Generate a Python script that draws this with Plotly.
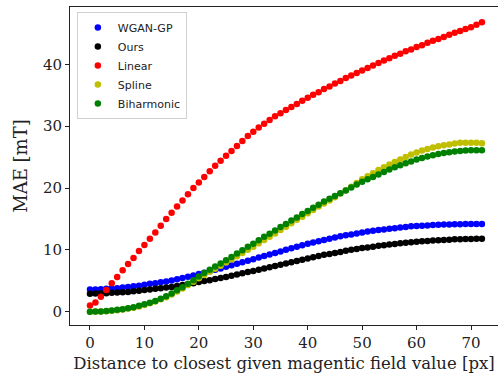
import plotly.graph_objects as go

# x positions: distance to closest given magnetic field value [px]
distance = list(range(73))

wgan_gp = [3.6, 3.6, 3.65, 3.7, 3.75, 3.8, 3.9, 4.0, 4.1, 4.2,
           4.35, 4.5, 4.6, 4.75, 4.9, 5.05, 5.25, 5.45, 5.65, 5.85,
           6.1, 6.3, 6.55, 6.8, 7.0, 7.25, 7.5, 7.75, 8.0, 8.25,
           8.5, 8.75, 9.0, 9.25, 9.5, 9.75, 10.0, 10.25, 10.5, 10.75,
           11.0, 11.2, 11.4, 11.6, 11.8, 12.0, 12.2, 12.35, 12.5, 12.65,
           12.8, 12.95, 13.1, 13.2, 13.3, 13.4, 13.5, 13.6, 13.7, 13.8,
           13.85, 13.9, 13.95, 14.0, 14.05, 14.1, 14.1, 14.15, 14.15, 14.2,
           14.2, 14.2, 14.2]

ours = [2.9, 2.95, 3.0, 3.0, 3.05, 3.1, 3.15, 3.2, 3.3, 3.4,
        3.5, 3.6, 3.7, 3.8, 3.9, 4.0, 4.15, 4.3, 4.45, 4.6,
        4.8, 4.95, 5.1, 5.3, 5.45, 5.6, 5.8, 6.0, 6.2, 6.4,
        6.6, 6.8, 7.0, 7.2, 7.4, 7.6, 7.8, 8.0, 8.2, 8.4,
        8.6, 8.8, 9.0, 9.2, 9.35, 9.5, 9.65, 9.85, 10.0, 10.15,
        10.3, 10.4, 10.5, 10.65, 10.75, 10.85, 10.95, 11.05, 11.15, 11.25,
        11.3, 11.4, 11.45, 11.5, 11.55, 11.6, 11.65, 11.7, 11.7, 11.75,
        11.75, 11.8, 11.8]

linear = [1.0, 1.5, 2.4, 3.5, 4.6, 5.6, 6.7, 7.7, 8.7, 9.8,
          10.8, 11.8, 12.8, 13.9, 15.0, 16.0, 17.0, 18.0, 19.0, 20.0,
          20.9, 21.8, 22.7, 23.6, 24.4, 25.2, 26.0, 26.8, 27.6, 28.4,
          29.1, 29.8, 30.4, 31.0, 31.6, 32.1, 32.6, 33.1, 33.6, 34.1,
          34.6, 35.1, 35.5, 36.0, 36.4, 36.9, 37.3, 37.8, 38.2, 38.6,
          39.0, 39.4, 39.8, 40.2, 40.6, 41.0, 41.4, 41.7, 42.1, 42.4,
          42.8, 43.1, 43.5, 43.8, 44.1, 44.4, 44.8, 45.1, 45.4, 45.7,
          46.0, 46.4, 46.8]

spline = [0.0, 0.0, 0.03, 0.08, 0.15, 0.25, 0.35, 0.5, 0.65, 0.85,
          1.1, 1.35, 1.65, 2.0, 2.35, 2.8, 3.25, 3.75, 4.3, 4.85,
          5.4, 5.95, 6.45, 6.95, 7.45, 7.95, 8.45, 8.95, 9.5, 10.0,
          10.5, 11.05, 11.6, 12.1, 12.65, 13.2, 13.75, 14.3, 14.85, 15.35,
          15.9, 16.45, 17.0, 17.5, 18.0, 18.5, 19.1, 19.65, 20.2, 20.8,
          21.4, 21.9, 22.4, 22.9, 23.35, 23.8, 24.2, 24.6, 25.0, 25.4,
          25.75, 26.05, 26.3, 26.55, 26.75, 26.9, 27.05, 27.2, 27.3, 27.3,
          27.3, 27.3, 27.25]

biharmonic = [0.0, 0.02, 0.05, 0.1, 0.2, 0.3, 0.4, 0.55, 0.7, 0.95,
              1.2, 1.45, 1.75, 2.1, 2.5, 2.95, 3.45, 3.95, 4.5, 5.1,
              5.7, 6.25, 6.8, 7.3, 7.8, 8.3, 8.85, 9.4, 9.95, 10.5,
              11.0, 11.55, 12.1, 12.6, 13.15, 13.7, 14.2, 14.75, 15.25, 15.8,
              16.3, 16.8, 17.3, 17.8, 18.25, 18.7, 19.15, 19.6, 20.1, 20.55,
              21.0, 21.4, 21.8, 22.2, 22.6, 23.0, 23.35, 23.7, 24.0, 24.3,
              24.6, 24.85, 25.1, 25.3, 25.5, 25.65, 25.8, 25.9, 26.0, 26.05,
              26.1, 26.1, 26.1]

series_names = ["WGAN-GP", "Ours", "Linear", "Spline", "Biharmonic"]
series_values = [wgan_gp, ours, linear, spline, biharmonic]
series_colors = ["#0000ff", "#000000", "#ff0000", "#bfbf00", "#008000"]

x_ticks = [0, 10, 20, 30, 40, 50, 60, 70]
y_ticks = [0, 10, 20, 30, 40]

fig = go.Figure()
for name, vals, col in zip(series_names, series_values, series_colors):
    fig.add_trace(go.Scatter(
        x=distance, y=vals, mode="markers", name=name,
        marker=dict(color=col, size=6.5, line=dict(width=0)),
    ))

serif = "DejaVu Serif"
fig.update_layout(
    width=498, height=377,
    margin=dict(l=70, r=0, t=7, b=52),
    paper_bgcolor="white", plot_bgcolor="white",
    showlegend=True,
    legend=dict(
        x=0.016, y=0.984, xanchor="left", yanchor="top",
        bgcolor="white", bordercolor="#d0d0d0", borderwidth=1,
        font=dict(family="DejaVu Sans", size=11, color="#222222"),
        itemwidth=30, tracegroupgap=0,
    ),
    xaxis=dict(
        range=[-3.67, 74.96], tickvals=x_ticks, ticks="outside", ticklen=4,
        tickcolor="#222222", showline=True, linecolor="#222222", linewidth=1,
        mirror=True, showgrid=False, zeroline=False,
        tickfont=dict(family=serif, size=15, color="#222222"),
        title=dict(text="Distance to closest given magentic field value [px]",
                   font=dict(family=serif, size=16.5, color="#222222"), standoff=6),
    ),
    yaxis=dict(
        range=[-2.15, 49.27], tickvals=y_ticks, ticks="outside", ticklen=4,
        tickcolor="#222222", showline=True, linecolor="#222222", linewidth=1,
        mirror=False, showgrid=False, zeroline=False,
        tickfont=dict(family=serif, size=15, color="#222222"),
        title=dict(text="MAE [mT]", font=dict(family=serif, size=18, color="#222222"),
                   standoff=10),
    ),
)

fig.write_html(
    "out.html",
    config={"displayModeBar": False},
    post_script="document.body.style.margin='0px';document.body.style.overflow='hidden';",
)
